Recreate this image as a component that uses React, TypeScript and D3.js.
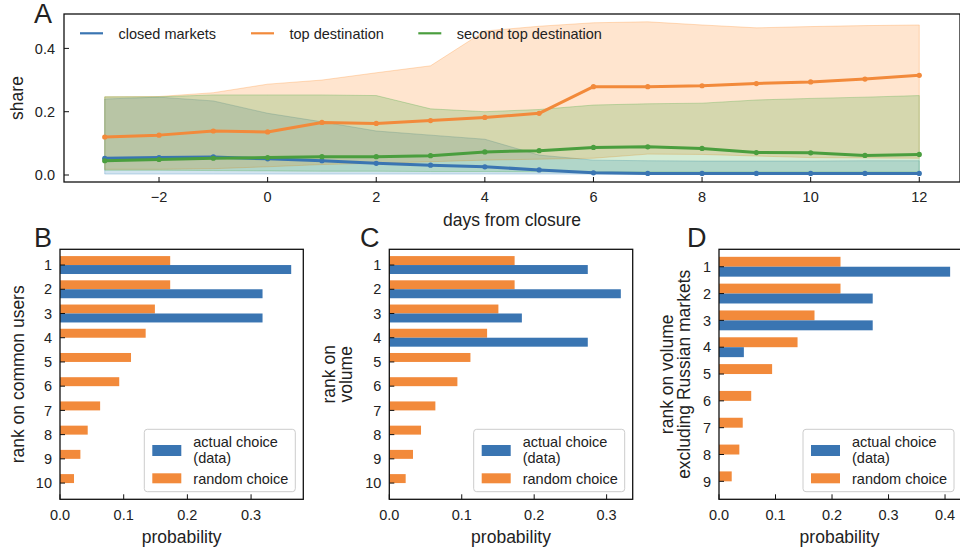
import React from "react";
import * as d3 from "d3";

// ---------- Panel A data ----------
const days = [-3, -2, -1, 0, 1, 2, 3, 4, 5, 6, 7, 8, 9, 10, 11, 12];
const closedShare = [0.053, 0.055, 0.057, 0.051, 0.045, 0.037, 0.031, 0.026, 0.016, 0.007, 0.005, 0.005, 0.005, 0.005, 0.005, 0.005];
const closedLow = [0.003, 0.003, 0.003, 0.003, 0.003, 0.003, 0.003, 0.003, 0.003, 0.003, 0.003, 0.003, 0.003, 0.003, 0.003, 0.003];
const closedHigh = [0.24, 0.246, 0.234, 0.195, 0.168, 0.139, 0.126, 0.113, 0.063, 0.047, 0.045, 0.044, 0.044, 0.044, 0.045, 0.045];
const topShare = [0.12, 0.126, 0.139, 0.136, 0.166, 0.163, 0.172, 0.182, 0.195, 0.279, 0.279, 0.282, 0.289, 0.294, 0.303, 0.315];
const topLow = [0.018, 0.018, 0.02, 0.026, 0.033, 0.037, 0.042, 0.047, 0.05, 0.053, 0.066, 0.065, 0.06, 0.055, 0.054, 0.053];
const topHigh = [0.247, 0.248, 0.26, 0.287, 0.3, 0.323, 0.345, 0.455, 0.47, 0.481, 0.484, 0.474, 0.465, 0.469, 0.472, 0.474];
const secondShare = [0.045, 0.049, 0.053, 0.055, 0.058, 0.058, 0.061, 0.073, 0.077, 0.087, 0.089, 0.084, 0.071, 0.07, 0.062, 0.065];
const secondLow = [0.015, 0.015, 0.014, 0.013, 0.012, 0.012, 0.011, 0.011, 0.01, 0.01, 0.01, 0.01, 0.01, 0.01, 0.01, 0.01];
const secondHigh = [0.247, 0.247, 0.253, 0.253, 0.253, 0.251, 0.209, 0.2, 0.207, 0.221, 0.225, 0.227, 0.237, 0.242, 0.246, 0.251];
const seriesNamesA = ["closed markets", "top destination", "second top destination"];
const xTicksA = [-2, 0, 2, 4, 6, 8, 10, 12];
const yTicksA = [0, 0.2, 0.4];

// ---------- Panels B, C, D data ----------
const ranksBC = [1, 2, 3, 4, 5, 6, 7, 8, 9, 10];
const randomB = [0.173, 0.173, 0.149, 0.1345, 0.1115, 0.093, 0.063, 0.0435, 0.032, 0.022];
const actualB = [0.363, 0.318, 0.318, 0, 0, 0, 0, 0, 0, 0];
const randomC = [0.173, 0.173, 0.1506, 0.135, 0.112, 0.094, 0.0636, 0.0438, 0.0327, 0.0226];
const actualC = [0.274, 0.3196, 0.183, 0.274, 0, 0, 0, 0, 0, 0];
const ranksD = [1, 2, 3, 4, 5, 6, 7, 8, 9];
const randomD = [0.215, 0.215, 0.169, 0.139, 0.094, 0.057, 0.042, 0.036, 0.0225];
const actualD = [0.409, 0.272, 0.272, 0.044, 0, 0, 0, 0, 0];
const xTicksBC = [0, 0.1, 0.2, 0.3];
const xTicksD = [0, 0.1, 0.2, 0.3, 0.4];
const barLegend = [["actual choice", "(data)"], ["random choice"]];

const BLUE = "#3a75b2";
const ORANGE = "#f28a3b";
const GREEN = "#4a9e3e";
const BAND_BLUE = "#1f77b4";
const BAND_ORANGE = "#ff7f0e";
const BAND_GREEN = "#2ca02c";
const TXT = "#222";
const FONT = "'Liberation Sans', Arial, sans-serif";
const TICK_FS = 14.5;
const LABEL_FS = 17.5;

const fmt = (v: number) => (v < 0 ? "\u2212" : "") + Math.abs(v).toFixed(0);
const fmt1 = (v: number) => v.toFixed(1);

function PanelA() {
  const left = 64, right = 960, top = 14, bottom = 182;
  const x = d3.scaleLinear().domain([-3.75, 12.75]).range([left, right]);
  const y = d3.scaleLinear().domain([-0.0221, 0.5087]).range([bottom, top]);
  const area = (lo: number[], hi: number[]) =>
    d3.area<number>().x((_, i) => x(days[i])).y0((_, i) => y(lo[i])).y1((_, i) => y(hi[i]))(days) || "";
  const line = (v: number[]) => d3.line<number>().x((_, i) => x(days[i])).y((_, i) => y(v[i]))(days) || "";
  const series = [
    { v: closedShare, lo: closedLow, hi: closedHigh, c: BLUE, bc: BAND_BLUE },
    { v: topShare, lo: topLow, hi: topHigh, c: ORANGE, bc: BAND_ORANGE },
    { v: secondShare, lo: secondLow, hi: secondHigh, c: GREEN, bc: BAND_GREEN },
  ];
  const legendX = [80, 251, 418.3];
  return (
    <g>
      {series.map((s, k) => (
        <path key={"b" + k} d={area(s.lo, s.hi)} fill={s.bc} fillOpacity={0.2} stroke={s.bc} strokeOpacity={0.25} strokeWidth={1} />
      ))}
      {series.map((s, k) => (
        <g key={"l" + k}>
          <path d={line(s.v)} fill="none" stroke={s.c} strokeWidth={3} strokeLinejoin="round" />
          {days.map((d, i) => (
            <circle key={i} cx={x(d)} cy={y(s.v[i])} r={2.6} fill={s.c} />
          ))}
        </g>
      ))}
      <rect x={left} y={top} width={right - left} height={bottom - top} fill="none" stroke="#111" strokeWidth={1.3} />
      {xTicksA.map((t) => (
        <g key={t}>
          <line x1={x(t)} x2={x(t)} y1={bottom} y2={bottom - 5} stroke="#111" strokeWidth={1} />
          <text x={x(t)} y={bottom + 20} textAnchor="middle" fontSize={TICK_FS} fill={TXT}>{fmt(t)}</text>
        </g>
      ))}
      {yTicksA.map((t) => (
        <g key={t}>
          <line x1={left} x2={left + 5} y1={y(t)} y2={y(t)} stroke="#111" strokeWidth={1} />
          <text x={left - 9} y={y(t)} dy="0.36em" textAnchor="end" fontSize={TICK_FS} fill={TXT}>{fmt1(t)}</text>
        </g>
      ))}
      <text x={(left + right) / 2} y={226} textAnchor="middle" fontSize={LABEL_FS} fill={TXT}>days from closure</text>
      <text transform={`translate(23,${(top + bottom) / 2}) rotate(-90)`} textAnchor="middle" fontSize={LABEL_FS} fill={TXT}>share</text>
      {seriesNamesA.map((n, k) => (
        <g key={n}>
          <line x1={legendX[k]} x2={legendX[k] + 23} y1={33.3} y2={33.3} stroke={series[k].c} strokeWidth={2.2} />
          <text x={legendX[k] + 38.5} y={33.3} dy="0.36em" fontSize={TICK_FS} fill={TXT}>{n}</text>
        </g>
      ))}
      <text x={34} y={23} fontSize={27} fill={TXT}>A</text>
    </g>
  );
}

type BarProps = {
  left: number; right: number; maxX: number; ranks: number[]; random: number[]; actual: number[];
  ticks: number[]; ylabel: string[]; ylabelX: number; letter: string; letterX: number;
};

function BarPanel(p: BarProps) {
  const top = 249.3, bottom = 499.3;
  const n = p.ranks.length;
  const x = d3.scaleLinear().domain([0, p.maxX]).range([p.left, p.right]);
  const y = d3.scaleLinear().domain([0.35, n + 0.67]).range([top, bottom]);
  const h = 0.37;
  const legW = 151, legH = 62.4;
  const legL = p.right - 8 - legW, legT = bottom - 7.6 - legH;
  return (
    <g>
      {p.ranks.map((r, i) => (
        <g key={r}>
          <rect x={x(0)} y={y(r - h)} width={x(p.random[i]) - x(0)} height={y(r) - y(r - h)} fill={ORANGE} />
          {p.actual[i] > 0 && (
            <rect x={x(0)} y={y(r)} width={x(p.actual[i]) - x(0)} height={y(r + h) - y(r)} fill={BLUE} />
          )}
        </g>
      ))}
      <rect x={p.left} y={top} width={p.right - p.left} height={bottom - top} fill="none" stroke="#111" strokeWidth={1.3} />
      {p.ranks.map((r) => (
        <g key={r}>
          <line x1={p.left} x2={p.left + 5} y1={y(r)} y2={y(r)} stroke="#111" strokeWidth={1} />
          <text x={p.left - 8} y={y(r)} dy="0.36em" textAnchor="end" fontSize={TICK_FS} fill={TXT}>{r}</text>
        </g>
      ))}
      {p.ticks.map((t) => (
        <g key={t}>
          <line x1={x(t)} x2={x(t)} y1={bottom} y2={bottom - 5} stroke="#111" strokeWidth={1} />
          <text x={x(t)} y={520.2} textAnchor="middle" fontSize={TICK_FS} fill={TXT}>{fmt1(t)}</text>
        </g>
      ))}
      <text x={(p.left + Math.min(p.right, 960)) / 2 + (p.right > 960 ? 0 : 0)} y={543} textAnchor="middle" fontSize={LABEL_FS} fill={TXT}>probability</text>
      {p.ylabel.map((l, k) => (
        <text key={k} transform={`translate(${p.ylabelX + k * 16.7},${(top + bottom) / 2}) rotate(-90)`} textAnchor="middle" fontSize={LABEL_FS} fill={TXT}>{l}</text>
      ))}
      <g>
        <rect x={legL} y={legT} width={legW} height={legH} rx={3} fill="#fff" fillOpacity={0.8} stroke="#ccc" strokeWidth={1} />
        <rect x={legL + 8} y={legT + 15.7} width={29} height={11} fill={BLUE} />
        <rect x={legL + 8} y={legT + 44} width={29} height={10} fill={ORANGE} />
        <text x={legL + 49} y={legT + 12.4} dy="0.36em" fontSize={TICK_FS} fill={TXT}>{barLegend[0][0]}</text>
        <text x={legL + 49} y={legT + 28.4} dy="0.36em" fontSize={TICK_FS} fill={TXT}>{barLegend[0][1]}</text>
        <text x={legL + 49} y={legT + 49} dy="0.36em" fontSize={TICK_FS} fill={TXT}>{barLegend[1][0]}</text>
      </g>
      <text x={p.letterX} y={247} fontSize={27} fill={TXT}>{p.letter}</text>
    </g>
  );
}

export default function App() {
  return (
    <svg width={960} height={551} style={{ position: "absolute", left: 0, top: 0, display: "block", background: "#fff" }} fontFamily={FONT}>
      <rect x={0} y={0} width={960} height={551} fill="#fff" />
      <PanelA />
      <BarPanel left={60} right={303.3} maxX={0.382} ranks={ranksBC} random={randomB} actual={actualB} ticks={xTicksBC}
        ylabel={["rank on common users"]} ylabelX={24} letter="B" letterX={34} />
      <BarPanel left={389.3} right={632.7} maxX={0.336} ranks={ranksBC} random={randomC} actual={actualC} ticks={xTicksBC}
        ylabel={["rank on", "volume"]} ylabelX={335} letter="C" letterX={360} />
      <BarPanel left={719} right={962} maxX={0.43} ranks={ranksD} random={randomD} actual={actualD} ticks={xTicksD}
        ylabel={["rank on volume", "excluding Russian markets"]} ylabelX={673} letter="D" letterX={687} />
    </svg>
  );
}
